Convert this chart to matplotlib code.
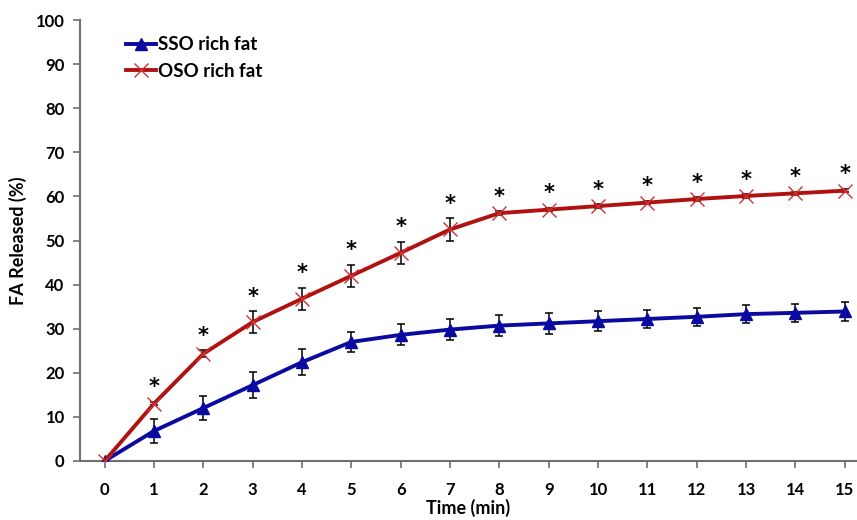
import numpy as np
import matplotlib.pyplot as plt

# Datos
time_min = [0, 1, 2, 3, 4, 5, 6, 7, 8, 9, 10, 11, 12, 13, 14, 15]
sso = [0, 6.8, 12.0, 17.2, 22.4, 27.0, 28.6, 29.8, 30.7, 31.2, 31.7, 32.2, 32.7, 33.3, 33.6, 33.9]
sso_err = [0, 2.7, 2.8, 2.9, 2.9, 2.3, 2.4, 2.3, 2.3, 2.3, 2.2, 2.1, 2.0, 2.0, 2.0, 2.1]
oso = [0, 13.0, 24.3, 31.5, 36.8, 42.0, 47.2, 52.5, 56.2, 57.0, 57.8, 58.6, 59.4, 60.1, 60.7, 61.3]
oso_err = [0, 0.4, 0.8, 2.5, 2.5, 2.5, 2.5, 2.5, 0.5, 0.4, 0.4, 0.4, 0.4, 0.4, 0.4, 0.4]
signif = [False] + [True] * 15

plt.rcParams['font.family'] = ['Lato', 'DejaVu Sans']
plt.rcParams['font.weight'] = 'bold'

fig = plt.figure(figsize=(8.57, 5.2), dpi=100)
ax = fig.add_axes([0.0933, 0.1135, 0.9067, 0.848])

blue = '#0A0AA0'
red = '#B01212'

ax.errorbar(time_min, sso, yerr=sso_err, fmt='none', ecolor='black', elinewidth=1.1, capsize=3, capthick=1.1, zorder=2)
ax.errorbar(time_min, oso, yerr=oso_err, fmt='none', ecolor='black', elinewidth=1.1, capsize=3, capthick=1.1, zorder=2)
ax.plot(time_min, sso, color=blue, lw=2.8, marker='^', ms=9, mfc=blue, mec=blue, label='SSO rich fat', zorder=3)
ax.plot(time_min, oso, color=red, lw=2.8, marker='x', ms=10, mew=1.0, mec='#D03030', label='OSO rich fat', zorder=3)

# Asteriscos de significancia
for t, v, e, s in zip(time_min, oso, oso_err, signif):
    if s:
        ax.text(t, v + e + 1.0, '*', ha='center', va='bottom', fontsize=15, fontweight='bold', family='DejaVu Sans')

ax.set_xlim(-0.5, 15.25)
ax.set_ylim(0, 100)
ax.set_xticks(time_min)
ax.set_yticks(range(0, 101, 10))
ax.tick_params(axis='both', labelsize=12, color='#707070', length=5, width=1.2, direction='out')
ax.tick_params(axis='x', pad=10)
ax.tick_params(axis='y', pad=6)
for lab in ax.get_xticklabels() + ax.get_yticklabels():
    lab.set_fontweight('bold')

for side in ['top', 'right']:
    ax.spines[side].set_visible(False)
for side in ['left', 'bottom']:
    ax.spines[side].set_color('#707070')
    ax.spines[side].set_linewidth(1.5)

ax.set_xlabel('Time (min)', fontsize=13, fontweight='bold', labelpad=1)
ax.set_ylabel('FA Released (%)', fontsize=13, fontweight='bold', labelpad=6)

ax.legend(loc='upper left', bbox_to_anchor=(0.05, 0.98), frameon=False, fontsize=13.5,
          handlelength=1.6, handletextpad=0.1, labelspacing=0.5, borderaxespad=0)

fig.savefig('out.png', dpi=100)
